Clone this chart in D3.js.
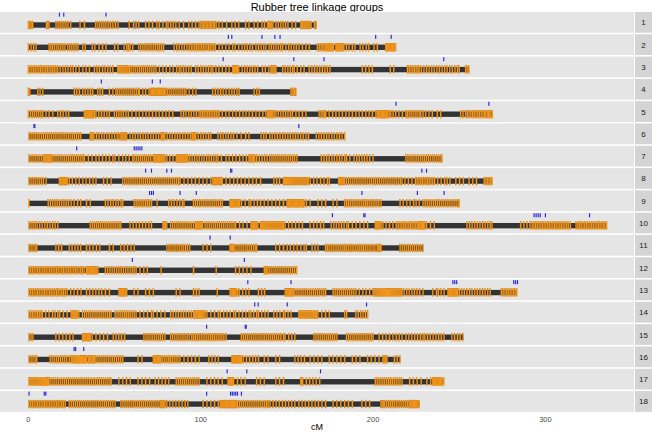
<!DOCTYPE html>
<html>
<head>
<meta charset="utf-8">
<script src="https://cdn.jsdelivr.net/npm/d3@7"></script>
<style>
  body { margin: 0; background: #fff; }
  text { font-family: "Liberation Sans", Arial, sans-serif; }
</style>
</head>
<body>
<div class="chart"></div>
<script>
// linkage group names (strip labels)
const groups = ['1','2','3','4','5','6','7','8','9','10','11','12','13','14','15','16','17','18'];

// marker positions (cM) per linkage group
const lg1 = [0,0.8,1.6,2.4,10.5,11.2,12,16,17.2,18.4,19.5,20.6,21.8,23,24.5,30,32.5,39,40.2,41.4,42.6,43.8,45,46.3,47.6,49,50.5,52,58.5,61,62.5,64,68,70,72,74.5,76,78,80,81,82.5,84,85.5,87.5,90,93,95,97,99,100,100.8,101.6,102.4,103.2,104,104.8,105.6,106.4,107.2,108,109,110.5,112.5,115,118,120,122,126,128,131,133,135.5,137,138.8,139.4,140,140.6,141.2,141.8,143.6,145,146.4,147.8,149.2,150.6,153,155,158,158.6,159.2,159.8,160.4,161,161.6,162.2,162.8,163.4,164,166,167];
const lg2 = [0,1.5,3,4.5,12,13,14,15.2,16.4,17.6,18.8,20,21.2,22.8,24,25.2,26.4,27.6,28.8,31.5,33,37,38.5,41,43,45,50,52,55.5,57,58,59,60.5,64,65.2,66.4,67.6,68.8,70,71.2,72.4,73.6,74.8,76,77.2,78.4,84.6,86,87.5,89,90.5,92,93.3,94.5,95.5,96.5,97.5,98.5,99.5,100.5,101.5,102.5,103.5,104.5,105.5,106.5,107.5,108.5,110.7,112.5,114.5,116.5,118.5,120,122,124,125.5,127,128.5,130,132,133.5,135,136.5,137.8,139.7,141,142.3,143.6,145,146.3,147.5,149.4,151,152.5,154,155.5,157,159,161,163,167.7,168.8,169.8,170.6,171.6,172.2,172.8,173.4,174,174.6,175.2,175.8,176.4,177,178.4,178.9,179.4,179.9,180.4,180.9,181.4,181.9,182.4,183,184.5,186,188,189.5,192.5,194,196,197.5,200.6,202.5,207.3,207.8,208.3,208.8,209.3,209.8,210.3,210.8,211.3,211.8,212.3,213];
const lg3 = [0,1,2,3,4,5,6,7,8,9,10,11,12,13,14,15,16,17,18.5,20,21.5,23,24.5,26,27.5,29.5,31.5,33.5,35.4,38.3,39.8,41.2,43,44.5,46,47.5,48.9,51.8,52.4,53,53.6,54.2,54.8,55.4,56,56.6,57.2,57.8,58.6,59.6,60.8,62,63.2,64.4,65.6,66.8,68,69.2,70.4,71.6,72.8,74,76,78,80,82,84,86,87.5,88.5,90,91.5,93,94.5,97,98.5,100,101.5,103,104.5,106,107,108.8,110.5,112.5,114.5,116.5,118.5,119,119.6,120.2,120.8,121.4,122,124,125.5,127,128.5,130,131.5,133,135.8,137.5,139.5,140.7,141.3,141.9,142.5,143.1,143.6,147.5,149,150.5,152,153.3,154.2,156,158,160,162.9,164.5,166,167.5,169,170.6,172,173.5,175,193.8,195.7,197.7,199.6,210,212,220,221,222,223,224,225,226,226.7,228,229.5,231,232.5,234,235.5,237,238.5,240,241.5,243,244.5,246,247.5,249,250,253.7,254.6,255.6];
const lg4 = [0,0.8,5.4,6.8,8.3,26.7,28,29.6,31.5,33,34.5,36,37.3,40.2,41.6,43,47,49,50.8,51.8,53,54.2,55.4,56.6,57.8,59,60.2,61.4,62.6,63.8,64.4,66.3,68,70,71,71.5,72,72.5,73,73.5,74,74.5,75,75.5,76,76.5,77,77.5,78,78.5,79,79.8,80.8,82,83.2,84.4,85.6,86.8,88,89.2,90.4,91.4,93.3,95.3,97.2,106.9,108.5,110,111.5,113,114.6,116.5,118,119.5,121,122.3,131,132.5,134,152.3,153,153.7,154.4,155.2];
const lg5 = [0,1.2,2.4,3.6,4.8,6,7.2,8.3,10.2,12,14.1,17,18.6,20.2,21.8,23.3,32.5,33,33.5,34,34.5,35,35.5,36,36.5,37,37.5,38.3,39.2,40.8,42.4,44,45.5,47,49.9,51.2,52.5,53.8,55.1,56.6,58,60,62.4,64.3,66.3,68.2,70,72,74,75.9,77.8,79.8,81.7,83.7,88.5,90,91.4,93,94.5,96,97.5,99,100,101,102,103,104,105,106,107,108,109,110,110.7,112.5,114.5,116.5,118.5,120.5,122.5,124.5,126.2,128.1,130,132,134,136,137.8,138.8,139.4,140,140.6,141.2,141.8,142.6,143.6,145,146.4,147.8,149.2,150.6,152,153.2,155.2,157,159,161,168.7,169.8,170.8,171.8,172.5,174.5,176.5,178.4,180.3,182.2,184.2,186.1,188,190,191.9,193.8,195.8,197.7,199.6,201.6,202.5,203,203.5,204,204.5,205,205.5,206,206.5,207,207.5,208,208.5,209.3,210.2,211.6,213.1,215,217,219,219.9,221,222.1,223.2,224.4,225.5,226.7,227.6,229,230.5,232.5,234.4,237.3,239.2,250.8,252.2,253.7,254.7,255.7,256.7,257.7,258.7,259.7,260.7,261.7,262.7,263.7,264.5,265.3,266.3,267,267.7,268.4,269.2];
const lg6 = [0.3,1.5,2.7,3.9,5.1,6.3,7.5,8.7,9.9,11.1,12.3,13.5,14.7,15.9,17.1,18.3,19.5,20.7,21.9,23.1,24.3,25.5,26.7,27.9,29.1,30.3,35.9,36.4,36.9,37.4,38,39.5,41,42.5,44,45.5,47,48.5,50,51.5,52.5,53.6,54.2,54.8,55.4,56,56.6,57,59,60.5,62,63.5,65,66.5,68,69.5,71,72.5,74,75.5,77,77.5,78,78.5,79,80.5,82,83.5,85,86.5,88,89.5,91,92.5,94,95,95.5,96,96.5,97,98.5,100,101.5,103,104.5,105.8,110,111.5,113,114.5,116,117.5,119,121,123.5,126,128,135,136.5,138,140,141.5,143,144.5,146,147.5,149,150.5,152,153.5,155,156.5,158,159.5,161,162.5,167,168.5,170,171.5,173,174.5,176,177.5,179,180.5,182,183.5];
const lg7 = [0.3,1.5,2.7,3.9,5.1,6.3,7.5,8.7,9.2,9.7,10.2,10.7,11.2,11.7,12.2,12.7,13.2,13.7,14.8,16,17.2,18.4,19.6,20.8,22,23.2,24.4,25.6,26.8,28,29.2,30.4,31.6,32.5,34.8,37,39.2,41,43,45,47,49,50.3,52.5,54.7,56.5,58.5,60.5,61.4,62.6,63.8,65,66.2,67.4,68.6,69.8,71,72.5,73,73.5,74,74.5,75,75.5,76,76.5,77,77.5,78,78.5,79.2,80.3,82,84,85.8,86.3,86.8,87.3,87.8,88.3,88.8,89.3,89.8,90.3,90.8,91.3,91.8,92.5,93.6,95,96.4,97.8,99.2,100.6,102,103.4,104.8,106.2,107.6,109,110,112,114.7,116.5,118.5,120.5,122.5,124.5,126.5,128,128.5,129.2,129.9,130.6,131.3,132.4,134,135.5,137,138.5,140,141.3,142.4,143.6,144.8,146,147.2,148.4,149.6,150.8,152,153.2,154.4,155.8,170,171.5,173,174.5,176,177.5,179,180.5,182,183.5,184.6,186.5,189,190.5,192,193.5,195,196.5,198,200,219,220.2,221.4,222.6,223.8,225,226.2,227.4,228.6,229.8,231,232.2,233.4,234.6,235.8,237,238.2,239.4,240];
const lg8 = [0.3,1.5,2.7,3.9,5.1,6.3,7.5,8.7,10.3,18,18.5,19,19.5,20,20.5,21,21.5,22,22.5,23.7,25.5,27.5,29.5,31.5,33.5,35.5,37.5,39.2,43.6,45.8,48,54.7,55.9,57.1,58.3,59.5,60.7,61.9,63.1,64.3,65.5,66.7,67.9,69.1,70.3,71.5,72.7,73.9,75.1,76.3,77.5,78.7,79.9,81.1,82.3,83.5,84.7,85.9,87.1,88,90.3,92.5,94.7,96.9,99.1,101.3,103.5,105.8,107,107.5,108,108.5,109,109.5,110,110.5,111,111.5,112,112.5,114.7,116.9,119.1,121.3,123.5,125.7,127.9,130.1,132.3,134.7,142.4,144,145.7,148,148.6,149.2,149.8,150.4,151,151.6,152.2,152.8,153.4,154,154.6,155.2,155.8,156.4,157,157.6,158.2,158.8,159.4,160,160.6,161.2,161.8,162.4,163.5,165.5,167.5,169.5,171.5,173.5,174.6,180,180.5,181,181.5,182,182.5,183,183.5,184.6,185.8,187,188.2,189.4,190.6,191.8,193,194.2,195.4,196.6,197.8,199,200.2,201.4,202.6,203.8,205,206.2,207.4,208.6,209.8,211,212.2,213.4,214.6,215.8,216.8,218.5,220.5,222.5,224.6,225.6,226.6,227.6,228.6,229.6,230.6,231.6,232.6,233.6,234.6,235.7,237.5,239.5,241.5,243,244.6,248,250.2,252.4,255.7,257.8,260,264.5,265.4,266.3,267.2,268.1,269];
const lg9 = [0.3,11.5,12.8,14.1,15.4,16.7,18,19.3,20.6,21.9,23.2,24.8,26.5,28.5,30.3,33.7,35.9,44.7,46.2,47.7,49.2,50.7,52.2,53.7,54.7,61.4,62.5,63.6,64.7,65.8,66.9,68,69.1,70.2,71.4,74.7,81.4,83,84.6,86.2,87.8,89.4,90.3,95.8,97,98.2,99.4,100.6,101.8,103,104.2,105.4,106.6,107.8,109,110.2,111.4,112.5,116.9,117.4,117.9,118.4,118.9,119.4,119.9,120.4,120.9,121.4,121.9,122.4,123.6,125.8,128,129.1,131,132.9,134.7,136.9,139.1,141.3,143.5,145.7,148,150,150.5,151,151.5,152,152.5,153,153.5,154,154.5,155,155.5,156,156.5,157,157.5,158,158.5,159,159.5,160,161.3,163.5,168,170.2,172.4,176.8,179,183.5,184.6,185.7,186.8,187.9,189,190.1,191.2,192.3,193.4,194.5,195.6,196.7,197.8,198.9,200,201.1,202.2,203.3,204.6,215.7,217.5,219.5,221.5,223.5,225,226.8,229,230.2,231.4,232.6,233.8,235,236.2,237.4,238.6,239.8,241,242.2,243.4,244.6,245.8,247,248.2,249.4,250];
const lg10 = [0.3,1.5,2.7,3.9,5.1,6.5,8,9.5,11,12.5,14,15.5,17,35.9,37.1,38.3,39.5,40.7,41.9,43.1,44.3,45.5,46.7,47.9,49.1,50.3,51.5,52.7,53.6,59,60.8,62.6,64.4,66.2,68,69.8,71.4,78,78.5,79,79.5,80.3,82.5,83.7,84.9,86.1,87.3,88.5,89.7,90.9,92.1,93.3,94.5,95.8,97,97.5,98,98.5,99,99.5,100,100.5,101,102.5,103.7,104.9,106.1,107.3,108.5,109.7,110.9,112.1,113.3,114.5,115.7,116.9,118.1,119.3,120.2,122.5,124.5,126.9,129.1,129.6,130.1,130.6,131.1,131.6,132.1,132.6,133.1,134.7,135.3,135.9,136.5,137.1,137.7,138.3,138.9,139.5,140.1,140.7,141.3,141.9,142.5,143.1,143.7,144.3,144.9,145.5,146.1,146.7,147.3,148,149,151,153,155,157,159,163.5,165.5,167.5,169.5,171.3,175.7,177.2,178.7,180.2,181.7,183.2,184.7,185.7,188,190.2,192.4,194.6,196.8,201.3,201.8,202.3,202.8,203.3,203.8,204.6,205.7,207.5,209.5,211.5,213.5,214.6,215.7,216.7,217.7,218.7,219.7,220.7,221.7,222.7,223.7,224.7,225.7,226.2,226.7,227.2,227.7,228.2,228.7,229.2,230,231,233.3,235.5,254.5,256,257.5,259,260.5,262,263.5,265,266.5,268,269,285.6,287.5,289.3,291,292.3,293.3,294.3,295.3,296.3,297.3,298.3,299.3,300.3,301.3,302.3,303.3,304.3,305.3,306.3,307.3,308.3,309.3,310.3,311.3,312.3,313.3,314.5,317.8,318.8,319.8,320.8,321.8,322.8,323.8,324.8,325.8,326.8,327.8,328.8,329.8,330.8,331.8,332.8,333.8,334.5,335.5];
const lg11 = [0.3,1.5,2.7,3.9,4.8,15.9,17.5,19.2,23.7,25.3,27,28.6,30.3,33.7,35.5,37.5,39.5,41.4,47,49.2,53.6,55.5,57.5,59.5,61.4,80.3,81.5,82.7,83.9,85.1,86.3,87.5,88.7,89.9,91.1,92.3,93.6,101.4,103.6,105.8,116.9,117.4,117.9,118.4,119,119.8,121,122.2,123.4,124.6,125.8,127,128.2,129.4,130.6,131.8,132.4,143.5,145.7,148,150.2,152,154,156,158,160,161.3,164.6,166.3,168,172.4,173.5,174.6,175.7,176.8,177.9,179,180.1,181.2,182.3,183.4,184.5,185.6,186.7,187.8,188.9,190,191.1,192.2,193.3,194.4,195.5,196.6,197.7,198.8,200,201,202.4,203,203.6,204.1,204.6,215.7,216.9,218.1,219.3,220.5,221.7,222.9,224.1,225.3,226.5,227.7,229];
const lg12 = [0.3,1.3,2.3,3.3,4.3,5.3,6.3,7.3,8.3,9.3,10.3,11.3,12.3,13.3,14.3,15.3,16.3,17.3,18.3,19.3,20.3,21.3,22.3,23.3,24.3,25.3,26.3,27.3,28.3,29.3,30.3,31.3,32.3,33.7,34.2,34.7,35.2,35.7,36.2,36.7,37.2,37.7,38.2,38.7,39.2,39.7,40.3,44.7,46,47.3,48.6,49.9,51.2,52.5,53.8,55.1,56.4,57.7,59,60.3,61.4,62.5,64.7,66.9,69,77,95.8,109,120.2,122.4,124.6,126.8,129.1,136.9,137.4,137.9,138.4,139,140,141.2,142.4,143.6,144.8,146,147.2,148.4,149.6,150.8,152,153.2,154.4,155.6];
const lg13 = [0.3,1.3,2.3,3.3,4.3,5.3,6.3,7.3,8.3,9.3,10.3,11.3,12.3,13.3,14.3,15.3,16.3,17.3,18.3,19.3,20.3,21.4,22.5,24.5,26.5,28.5,30.5,33.7,35.5,37.3,39.1,40.9,42.5,44.7,47,52.5,53,53.5,54,54.5,55,55.5,56,56.5,57,61.4,63.6,68,70.2,72.5,85.8,88,95.8,97.5,99.1,109.6,117,117.5,118,118.5,119,119.5,120,120.5,121.3,122.4,124.3,126.2,128,133.5,135.3,137,149,149.5,150,150.5,151,151.5,152,152.5,153,153.5,154,154.6,155.8,157,158.2,159.4,160.6,161.8,163,164.2,165.4,166.6,167.8,169,170.2,171.4,172.4,176.8,178,179.2,180.4,181.6,182.8,184,185.2,186.4,187.6,188.8,190.1,192,194,196,198,200,200.6,201.2,201.8,202.4,203,203.6,204.2,204.8,205.4,206,206.6,207.2,207.8,208.4,209,209.6,210.2,210.8,211.4,212,212.6,213.2,213.8,214.4,215,215.6,216.2,216.8,218,219.5,221,222.5,224,225.5,227,229,234.6,236.8,237.9,239.5,241.2,243.4,243.9,244.4,244.9,245.4,245.9,246.4,246.9,247.4,247.9,248.4,249,250.1,251.5,253,254.5,256,257.5,259,260.5,262,263.5,265,266.5,268,274.5,275.5,276.5,277.5,278.5,279.5,280.5,281.5,282.5,283.4];
const lg14 = [0.3,1.3,2.3,3.3,4.3,5.3,6.3,7.3,8.1,10,12,14,15.5,17,18.1,20.3,22.5,24.8,25.3,25.8,26.3,26.8,27.3,27.8,28.3,29.2,31.4,32.6,33.8,35,36.2,37.4,38.6,39.8,41,42.2,43.4,44.6,45.8,47,48,50.3,51.4,52.5,53.6,54.7,55.8,56.9,58,59.1,60.2,61.4,62.5,64.7,66.9,69.1,71.4,72.5,74.7,76.9,79.2,82.5,84,85.5,87,88.5,90,91.5,93,94.5,95.8,96.3,96.8,97.3,97.8,98.3,98.8,99.3,99.8,100.3,100.8,101.3,101.8,102.5,103.6,105.8,108,110.2,111.4,113.3,115.2,117.1,119.1,120.2,122.2,124.2,126.2,128,129.1,130.7,132.4,133.5,135.4,137.3,139.1,142.4,144.2,146,148,149,150.7,152.4,156.9,157.5,158.1,158.7,159.3,159.9,160.5,161.1,161.7,162.3,162.9,163.5,164.1,164.7,165.3,165.9,166.5,167.1,168,170.2,172.4,174.6,183.5,184.6,190,191.4,192.8,194.2,195.6,196.8];
const lg15 = [0.3,1.5,2.6,15.9,17.9,19.9,21.9,23.9,25.9,31.4,31.9,32.4,32.9,33.4,33.9,34.4,34.9,35.4,35.9,37,39.2,41.4,43.6,45.9,49.2,50.8,52.4,54,55.8,67,68.2,69.4,70.6,71.8,73,74.2,75.4,76.6,77.8,79.2,82.5,83.7,84.9,86.1,87.3,88.5,89.7,90.9,92.1,93.3,94.7,95.8,96.9,98,99.1,100.2,101.3,102.4,103.5,104.6,105.7,106.8,107.9,109,110.1,111.2,112.3,113.4,114.7,123.6,124.8,126,127.2,128.4,129.6,130.8,132,133.2,134.4,135.6,136.8,138,139.2,140.4,141.6,142.8,144,145.2,146.4,148,149,151,152.8,154.6,165.7,166.9,168.1,169.3,170.5,171.7,172.9,174.1,175.3,176.5,177.7,179,184.6,185.8,187,188.2,189.4,190.6,191.8,193,194.2,195.4,196.6,197.8,199,200,203.5,205.5,207.5,209.5,211.5,213.5,215.2,216.8,219,220.7,222.4,224.1,225.8,227.5,229,230,231.6,233.2,234.8,236.4,238,239.6,241.2,245.7,247.3,249,250.6,252.3];
const lg16 = [0.3,1.5,2.7,3.9,4.8,12.6,13.8,15,16.2,17.4,18.6,19.8,21,22.2,23.7,24.8,25.4,26,26.6,27.2,27.8,28.4,29,29.6,30.2,30.8,31.4,32,32.6,33.2,33.7,34.8,35.3,35.8,36.3,36.8,37.3,37.8,38.3,39.2,40.3,41.5,42.7,43.9,45.1,46.3,47.5,48.7,49.9,51.1,52.3,53.5,54.7,63.6,65.8,72.5,73,73.5,74,74.5,75,75.5,76,76.5,77,78,79.1,80.2,81.3,82.4,83.5,84.6,85.7,86.8,88,90.3,92.5,94.7,96.9,99.1,104.7,106.5,108.4,110.2,118,118.5,119,119.5,120,120.5,121,121.5,122,122.5,123,123.6,124.7,126.5,128.3,130.1,131.8,133.5,136.9,139.1,143.5,145.7,154.6,156.5,158.3,160.2,163.5,165.7,168,170.2,174.6,176.8,179,181.2,183.5,188,190.2,192.4,196.8,199,201.2,203.5,205.7,206.3,206.9,207.5,208,212.4,214,215.7];
const lg17 = [0.3,0.9,1.5,2.1,2.7,3.3,3.9,4.5,5.1,5.7,6.3,6.9,7.5,8.1,8.7,9.3,9.9,10.5,11.1,11.7,12.6,13.7,14.9,16.1,17.3,18.5,19.7,20.9,22.1,23.3,24.5,25.7,26.9,28.1,29.3,30.5,31.7,32.9,34.1,35.3,36.5,37.7,38.9,40.1,41.3,42.5,43.7,44.9,46.1,47.3,48,52.5,54.7,56.9,59.1,63.6,65.8,68,70.3,73.6,75.5,77.5,79.5,81.4,85.8,87,88.2,89.4,90.6,91.8,93,94.2,95.4,96.6,97.8,99.1,103.6,105.8,108,110.2,112.5,115.8,116.3,116.8,117.3,117.8,118.3,119,121.3,123.5,125.8,132.4,134.6,136.9,143.5,145.7,148,158,158.5,159.1,161.3,163.2,165.1,167,169,201.3,202.4,203.5,204.6,205.7,206.8,207.9,209,210.1,211.2,212.3,213.4,214.5,215.6,216.8,221.2,223.4,225.6,227.9,231.2,233.4,234.6,235.1,235.6,236.1,236.6,237.1,237.6,238.1,238.6,239.1,239.6,240.1,241];
const lg18 = [0.3,1.3,2.3,3.3,4.3,5.3,6.3,7.3,8.3,9.3,10.3,11.3,12.3,13.3,14.3,15.3,16.3,17.3,18.3,19.3,20.3,21.4,23.7,24.9,26.1,27.3,28.5,29.7,30.9,32.1,33.3,34.5,35.7,36.9,38.1,39.3,40.5,41.7,42.9,44.1,45.3,46.5,47.7,48.9,50.3,53.6,54.8,56,57.2,58.4,59.6,60.8,62,63.2,64.4,65.6,66.8,68,69.2,70.4,71.6,72.8,74,75.2,76.4,77,77.5,78,78.5,79.2,80.3,82,83.8,85.6,87.4,89.2,91,92.5,101.4,103.6,105.8,108,110.2,111.4,111.9,112.4,112.9,113.4,113.9,114.4,114.9,115.4,115.9,116.4,116.9,117.4,117.9,118.4,118.9,119.4,119.9,120.4,120.9,121.3,122.5,123.7,124.9,126.1,127.3,128.5,129.7,130.9,132.1,133.3,134.5,135.7,136.9,138.1,139.1,140.2,142,143.8,145.6,147.4,149.2,151,152.8,154.6,156.9,158.8,160.7,162.6,164.5,166.4,168.3,170.3,172.4,176.8,179,181.2,183.5,185.7,188,193.5,195.7,198,204.6,205.2,205.8,206.3,206.8,207.9,209,210.1,211.2,212.3,213.4,214.5,215.6,216.7,217.8,218.9,220,221,221.5,222,222.5,223,223.5,224,224.5,225,225.5,226,226.8];

// highlighted loci (blue ticks), cM
const hits1 = [18,20.5,45];
const hits2 = [116,118,135.5,143,146,201.5,210.5];
const hits3 = [113,154,171.5,241];
const hits4 = [42.3,71.9,76.5];
const hits5 = [213.3,267.2];
const hits6 = [3.2,3.7,156.9];
const hits7 = [28,61.4,62.5,63.6,64.7,65.8];
const hits8 = [68,71.4,80.3,83,117.3,118,228.3,231];
const hits9 = [70.3,71.4,72.5,88,97.4,193.5,225.7,241.2];
const hits10 = [176.4,194.6,195.3,293.4,294.6,295.8,297,300,325.6];
const hits11 = [105.4,117.1];
const hits12 = [60.3,125.3];
const hits13 = [127.3,152.4,246.3,247.4,248.5,281.6,282.7,283.8];
const hits14 = [131.3,133.3,150.2,196.2];
const hits15 = [103.4,125.8,126.4];
const hits16 = [26.5,27.4,32.1];
const hits17 = [115.3,126.7,169.5];
const hits18 = [0.35,9.2,10.1,103.4,117.3,118.3,119.3,120.3,121.3,123.6];

const xTicks = [0, 100, 200, 300];

const markers = [lg1,lg2,lg3,lg4,lg5,lg6,lg7,lg8,lg9,lg10,lg11,lg12,lg13,lg14,lg15,lg16,lg17,lg18];
const hits = [hits1,hits2,hits3,hits4,hits5,hits6,hits7,hits8,hits9,hits10,hits11,hits12,hits13,hits14,hits15,hits16,hits17,hits18];

const data = groups.map((g, i) => ({group: g, markers: markers[i], hits: hits[i]}));

const W = 652, H = 432;
const panelRight = 634;

const svg = d3.select('.chart').append('svg')
  .attr('width', W)
  .attr('height', H);

// scales
const x = d3.scaleLinear().domain([-16.5, 351.4]).range([0, panelRight]);
const y = d3.scaleBand().domain(groups).range([12, 411.8]).paddingInner(0.07);
const bw = y.bandwidth();

// title
svg.append('text')
  .attr('x', panelRight / 2)
  .attr('y', 10.5)
  .attr('text-anchor', 'middle')
  .attr('font-size', 11)
  .attr('fill', '#000')
  .text('Rubber tree linkage groups');

const rows = svg.selectAll('.row')
  .data(data)
  .enter()
  .append('g')
  .attr('class', 'row')
  .attr('transform', d => `translate(0,${y(d.group)})`);

// panel background
rows.append('rect')
  .attr('x', 0)
  .attr('width', panelRight)
  .attr('height', bw)
  .attr('fill', '#e5e5e5');

// strip
rows.append('rect')
  .attr('x', panelRight + 1)
  .attr('width', W - panelRight - 1)
  .attr('height', bw)
  .attr('fill', '#d4d4d4');
rows.append('text')
  .attr('x', (panelRight + 1 + W) / 2)
  .attr('y', bw / 2 + 3)
  .attr('text-anchor', 'middle')
  .attr('font-size', 8)
  .attr('fill', '#1a1a1a')
  .text(d => d.group);

// chromosome bar
rows.append('rect')
  .attr('x', d => x(d3.min(d.markers)))
  .attr('width', d => x(d3.max(d.markers)) - x(d3.min(d.markers)))
  .attr('y', 10.3)
  .attr('height', 5.4)
  .attr('fill', '#333333');

// markers
rows.selectAll('.marker')
  .data(d => d.markers)
  .enter()
  .append('rect')
  .attr('class', 'marker')
  .attr('x', d => x(d) - 0.6)
  .attr('width', 1.2)
  .attr('y', 9)
  .attr('height', 8)
  .attr('fill', '#fb9a1c')
  .attr('stroke', '#d8861a')
  .attr('stroke-width', 0.25);

// blue hits
rows.selectAll('.hit')
  .data(d => d.hits)
  .enter()
  .append('rect')
  .attr('class', 'hit')
  .attr('x', d => x(d) - 0.6)
  .attr('width', 1.2)
  .attr('y', 0.6)
  .attr('height', 4)
  .attr('fill', '#2b2bdd');

// x axis labels
svg.selectAll('.tick-label')
  .data(xTicks)
  .enter()
  .append('text')
  .attr('class', 'tick-label')
  .attr('x', d => x(d))
  .attr('y', 422)
  .attr('text-anchor', 'middle')
  .attr('font-size', 7.5)
  .attr('fill', '#4d4d4d')
  .text(d => d);

svg.append('text')
  .attr('x', panelRight / 2)
  .attr('y', 430)
  .attr('text-anchor', 'middle')
  .attr('font-size', 9)
  .attr('fill', '#000')
  .text('cM');
</script>
</body>
</html>
